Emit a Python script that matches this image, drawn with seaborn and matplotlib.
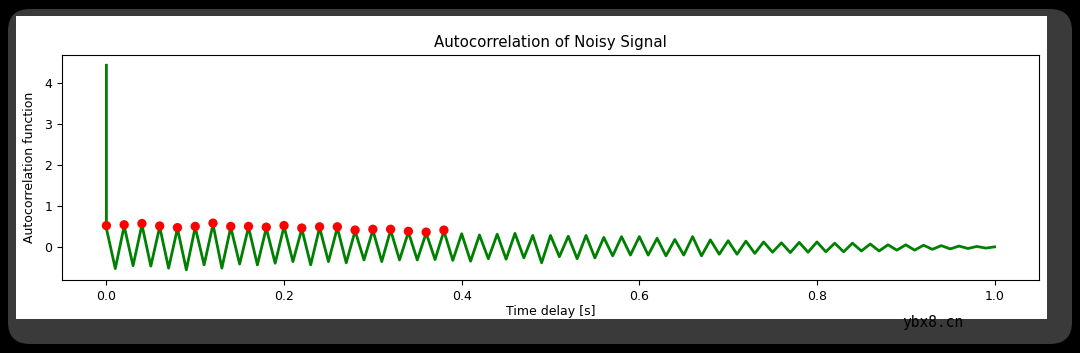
import numpy as np
import matplotlib
matplotlib.use("Agg")
import matplotlib.pyplot as plt
from matplotlib.patches import FancyBboxPatch, Rectangle
from matplotlib.transforms import IdentityTransform
import seaborn as sns

# ---------------- data ----------------
spike_value = 4.44  # autocorrelation at zero lag

# local maxima of the autocorrelation, at lags 0.00, 0.02, ..., 1.00 s
peak_values = [
    0.45, 0.51, 0.54, 0.49, 0.45, 0.48, 0.55, 0.48, 0.48, 0.46,
    0.50, 0.44, 0.47, 0.47, 0.39, 0.41, 0.41, 0.36, 0.34, 0.39,
    0.32, 0.29, 0.31, 0.33, 0.28, 0.28, 0.26, 0.28, 0.23, 0.25,
    0.25, 0.21, 0.18, 0.25, 0.17, 0.15, 0.14, 0.12, 0.10, 0.11,
    0.12, 0.09, 0.09, 0.07, 0.05, 0.05, 0.04, 0.03, 0.02, 0.01,
    0.00,
]
# local minima, at lags 0.01, 0.03, ..., 0.99 s
trough_values = [
    -0.53, -0.46, -0.47, -0.52, -0.56, -0.44, -0.52, -0.42, -0.44, -0.40,
    -0.36, -0.44, -0.36, -0.39, -0.32, -0.36, -0.32, -0.32, -0.31, -0.33,
    -0.35, -0.29, -0.30, -0.27, -0.39, -0.24, -0.29, -0.27, -0.22, -0.20,
    -0.20, -0.22, -0.20, -0.22, -0.18, -0.18, -0.16, -0.13, -0.14, -0.13,
    -0.12, -0.12, -0.10, -0.10, -0.08, -0.08, -0.06, -0.05, -0.04, -0.03,
]
peak_lags = np.round(np.arange(len(peak_values)) * 0.02, 3)
trough_lags = np.round(0.01 + np.arange(len(trough_values)) * 0.02, 3)

# detected peaks (red markers)
marker_lags = [0.00, 0.02, 0.04, 0.06, 0.08, 0.10, 0.12, 0.14, 0.16, 0.18,
               0.20, 0.22, 0.24, 0.26, 0.28, 0.30, 0.32, 0.34, 0.36, 0.38]
marker_values = [0.52, 0.54, 0.57, 0.51, 0.47, 0.50, 0.58, 0.50, 0.50, 0.48,
                 0.52, 0.46, 0.49, 0.49, 0.41, 0.43, 0.43, 0.38, 0.36, 0.41]

xticks = [0.0, 0.2, 0.4, 0.6, 0.8, 1.0]
yticks = [0, 1, 2, 3, 4]

# build the line: spike at zero lag, then alternating maxima / minima
lags = [0.0]
vals = [spike_value]
for i in range(len(peak_values)):
    lags.append(peak_lags[i]); vals.append(peak_values[i])
    if i < len(trough_values):
        lags.append(trough_lags[i]); vals.append(trough_values[i])

# ---------------- figure ----------------
W, H = 1080, 353
fig = plt.figure(figsize=(W / 100, H / 100), dpi=100, facecolor="black")

# screenshot-like frame (behind the axes)
fig.patches.append(FancyBboxPatch((8, 9), 1064, 335,
                                  boxstyle="round,pad=0,rounding_size=22",
                                  transform=IdentityTransform(), figure=fig,
                                  facecolor="#3a3a3a", edgecolor="none", zorder=-3))
fig.patches.append(Rectangle((16, H - 319), 1031, 303,
                             transform=IdentityTransform(), figure=fig,
                             facecolor="white", edgecolor="none", zorder=-2))

ax = fig.add_axes([62 / W, 1 - 280 / H, (1039 - 62) / W, (280 - 55) / H])
ax.set_facecolor("white")

sns.lineplot(x=lags, y=vals, ax=ax, color="green", linewidth=2.0,
             estimator=None, sort=False, solid_joinstyle="round")
sns.scatterplot(x=marker_lags, y=marker_values, ax=ax, color="red", s=45,
                edgecolor="none", zorder=3)

ax.set_xticks(xticks)
ax.set_yticks(yticks)
ax.tick_params(labelsize=9)
ax.set_title("Autocorrelation of Noisy Signal", fontsize=10.8)
ax.set_xlabel("Time delay [s]", fontsize=9, labelpad=2)
ax.set_ylabel("Autocorrelation function", fontsize=9, labelpad=6)

fig.text(933 / W, 1 - 323 / H, "ybx8.cn", ha="center", va="center",
         family="DejaVu Sans Mono", fontsize=10.5, color="#000000")

fig.savefig("out.png", dpi=100, facecolor=fig.get_facecolor())
